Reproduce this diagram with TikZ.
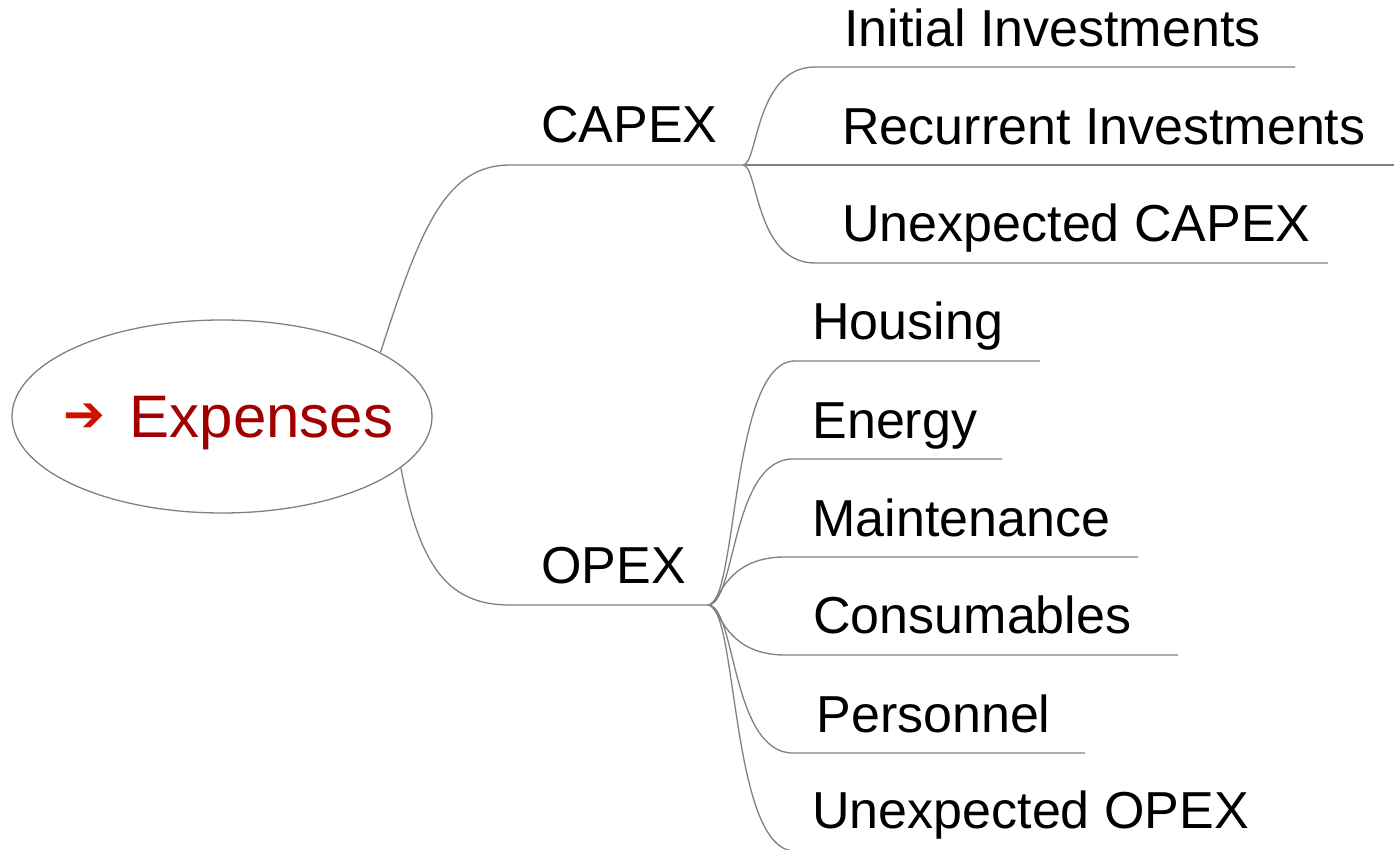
\documentclass[tikz,border=0pt]{standalone}
\usepackage{fontspec}
\setmainfont{Liberation Sans}
\newfontfamily\symfont{DejaVu Sans}
\usetikzlibrary{shapes.geometric}
\definecolor{expred}{RGB}{160,0,0}
\definecolor{arrowred}{RGB}{204,17,0}
\definecolor{linegray}{RGB}{128,128,128}
\begin{document}
\begin{tikzpicture}[x=0.5pt, y=-0.5pt]
    % Define styles
    \tikzset{
        root/.style={
            draw=linegray,
            line width=0.65pt,
            ellipse,
            inner sep=0pt,
            minimum width=210pt,
            minimum height=96.5pt,
            text depth=0pt,
            text=expred,
            font=\fontsize{30}{36}\selectfont
        },
        branch/.style={
            anchor=base west,
            inner sep=0pt,
            font=\fontsize{26}{31}\selectfont
        },
        leaf/.style={
            anchor=base west,
            inner sep=0pt,
            font=\fontsize{26}{31}\selectfont
        },
        link/.style={
            draw=linegray,
            line width=0.65pt
        }
    }
    \useasboundingbox (0,0) rectangle (1394,850);

    % Central topic
    \node[root] (root) at (222,416.5) {\makebox[0pt][c]{\hspace{6.5pt}\raisebox{3pt}{\symfont\bfseries\fontsize{25}{28}\selectfont\color{arrowred}➔}\hspace{12pt}Expenses}};

    % Main branches
    \node[branch] (capex) at (541,143) {CAPEX};
    \node[branch] (opex) at (541,583) {OPEX};
    \coordinate (capj) at (743,165);
    \coordinate (opj) at (708,605);
    \coordinate (capex-l) at (510,165);
    \coordinate (opex-l) at (510,605);

    % CAPEX leaves
    \node[leaf] (initial) at (844,47) {Initial Investments};
    \node[leaf] (recurrent) at (842,145) {Recurrent Investments};
    \node[leaf] (unexpcapex) at (842,242) {Unexpected CAPEX};
    \coordinate (initial-l) at (815,67);
    \coordinate (initial-r) at (1295,67);
    \coordinate (recurrent-r) at (1394,165);
    \coordinate (unexpcapex-l) at (815,263);
    \coordinate (unexpcapex-r) at (1328,263);

    % OPEX leaves
    \node[leaf] (housing) at (812,340) {Housing};
    \node[leaf] (energy) at (812,439) {Energy};
    \node[leaf] (maint) at (812,537) {Maintenance};
    \node[leaf] (consum) at (813,633) {Consumables};
    \node[leaf] (personnel) at (816,732) {Personnel};
    \node[leaf] (unexpopex) at (812,828) {Unexpected OPEX};
    \coordinate (housing-l) at (795,361);
    \coordinate (housing-r) at (1040,361);
    \coordinate (energy-l) at (793,459);
    \coordinate (energy-r) at (1002,459);
    \coordinate (maint-l) at (785,557);
    \coordinate (maint-r) at (1138,557);
    \coordinate (consum-l) at (785,655);
    \coordinate (consum-r) at (1178,655);
    \coordinate (personnel-l) at (793,753);
    \coordinate (personnel-r) at (1085,753);
    \coordinate (unexpopex-l) at (795,851);
    \coordinate (unexpopex-r) at (1250,851);

    % Root to branches
    \draw[link] (root.22) .. controls (420,230) and (445,165) .. (capex-l) -- (capj);
    \draw[link] (root.-16) .. controls (420,570) and (450,605) .. (opex-l) -- (opj);

    % CAPEX to leaves
    \draw[link] (capj) .. controls +(15,0) and +(-60,0) .. (initial-l) -- (initial-r);
    \draw[link] (capj) -- (recurrent-r);
    \draw[link] (capj) .. controls +(15,0) and +(-60,0) .. (unexpcapex-l) -- (unexpcapex-r);

    % OPEX to leaves
    \draw[link] (opj) .. controls +(30,0) and +(-65,0) .. (housing-l) -- (housing-r);
    \draw[link] (opj) .. controls +(28,0) and +(-62,0) .. (energy-l) -- (energy-r);
    \draw[link] (opj) .. controls +(12,0) and +(-62,0) .. (maint-l) -- (maint-r);
    \draw[link] (opj) .. controls +(12,0) and +(-62,0) .. (consum-l) -- (consum-r);
    \draw[link] (opj) .. controls +(28,0) and +(-62,0) .. (personnel-l) -- (personnel-r);
    \draw[link] (opj) .. controls +(30,0) and +(-65,0) .. (unexpopex-l) -- (unexpopex-r);
\end{tikzpicture}
\end{document}
